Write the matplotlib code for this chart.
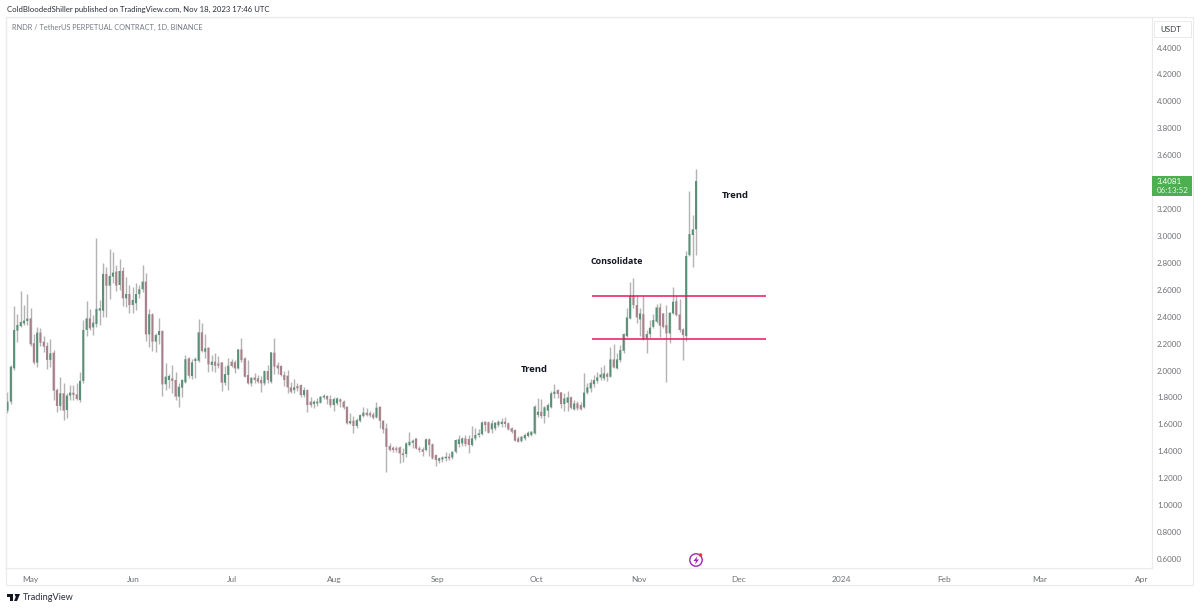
import matplotlib
matplotlib.use("Agg")
from matplotlib import pyplot as plt
import matplotlib.patches as mpatches
import numpy as np

# daily RNDR/USDT candles, first candle 24 Apr 2023
opens = [1.702,1.769,2.017,2.297,2.331,2.351,2.368,2.388,2.203,2.059,
2.282,2.215,2.183,2.079,2.133,1.856,1.737,1.831,1.707,1.814,
1.836,1.823,1.781,1.923,2.302,2.388,2.321,2.346,2.445,2.445,
2.718,2.631,2.698,2.735,2.636,2.740,2.537,2.569,2.487,2.500,
2.569,2.604,2.661,2.269,2.418,2.215,2.264,2.294,1.898,1.930,
1.942,1.930,1.806,1.873,1.913,2.091,1.959,2.071,2.073,2.284,
2.140,2.170,2.041,2.066,2.053,2.061,1.910,1.967,2.066,2.061,
2.016,2.157,2.091,1.967,1.905,1.949,1.942,1.930,1.905,1.996,
1.917,2.133,2.039,2.034,1.967,1.962,1.875,1.855,1.885,1.892,
1.818,1.855,1.769,1.751,1.756,1.761,1.801,1.811,1.788,1.744,
1.756,1.786,1.769,1.731,1.608,1.627,1.588,1.627,1.662,1.687,
1.682,1.674,1.652,1.731,1.627,1.570,1.439,1.427,1.422,1.429,
1.385,1.380,1.447,1.464,1.496,1.422,1.414,1.410,1.489,1.452,
1.372,1.330,1.340,1.348,1.360,1.355,1.397,1.454,1.459,1.496,
1.491,1.447,1.496,1.521,1.528,1.620,1.615,1.563,1.571,1.595,
1.603,1.620,1.608,1.571,1.558,1.496,1.476,1.496,1.514,1.521,
1.533,1.670,1.694,1.662,1.702,1.727,1.826,1.855,1.838,1.751,
1.761,1.801,1.712,1.756,1.744,1.727,1.836,1.867,1.899,1.924,
1.949,1.942,1.974,1.954,2.083,2.016,2.078,2.147,2.256,2.387,
2.556,2.487,2.380,2.420,2.239,2.271,2.325,2.363,2.469,2.425,
2.338,2.276,2.425,2.516,2.417,2.306,2.256,2.858,3.007,3.049]
highs = [1.838,2.042,2.480,2.418,2.591,2.487,2.567,2.463,2.272,2.326,
2.314,2.257,2.215,2.235,2.153,1.868,1.955,1.905,1.831,1.893,
1.893,1.905,1.987,2.376,2.517,2.455,2.413,2.988,2.525,2.797,
2.767,2.901,2.879,2.785,2.827,2.767,2.693,2.636,2.619,2.648,
2.636,2.785,2.723,2.455,2.430,2.282,2.393,2.300,2.054,1.975,
2.042,1.992,1.905,1.935,2.116,2.098,2.083,2.098,2.383,2.351,
2.271,2.175,2.115,2.128,2.110,2.066,2.034,2.091,2.083,2.078,
2.162,2.239,2.098,2.078,1.954,1.984,1.967,1.959,2.004,2.041,
2.140,2.239,2.061,2.041,1.999,2.004,1.917,1.937,1.910,1.900,
1.875,1.860,1.806,1.781,1.793,1.811,1.823,1.818,1.818,1.801,
1.801,1.793,1.781,1.736,1.682,1.662,1.645,1.677,1.731,1.719,
1.699,1.694,1.764,1.736,1.632,1.608,1.464,1.439,1.442,1.439,
1.422,1.471,1.546,1.491,1.501,1.439,1.429,1.496,1.496,1.459,
1.380,1.355,1.365,1.392,1.385,1.405,1.489,1.521,1.509,1.521,
1.521,1.588,1.571,1.563,1.625,1.628,1.628,1.632,1.620,1.632,
1.650,1.657,1.620,1.583,1.563,1.514,1.516,1.538,1.551,1.553,
1.744,1.798,1.786,1.736,1.761,1.850,1.898,1.863,1.843,1.831,
1.850,1.811,1.781,1.776,1.769,1.984,1.905,1.935,1.966,1.991,
2.023,2.041,1.991,2.177,2.194,2.127,2.189,2.276,2.462,2.660,
2.685,2.561,2.462,2.553,2.301,2.375,2.420,2.494,2.504,2.430,
2.487,2.437,2.623,2.553,2.529,2.313,2.890,3.336,3.155,3.495]
lows = [1.687,1.749,2.004,2.215,2.326,2.339,2.339,2.183,2.049,2.029,
2.183,2.141,2.012,2.029,1.781,1.695,1.707,1.633,1.645,1.781,
1.781,1.781,1.769,1.905,2.259,2.302,2.264,2.326,2.339,2.401,
2.401,2.529,2.648,2.594,2.599,2.480,2.470,2.425,2.430,2.450,
2.537,2.586,2.222,2.173,2.148,2.141,2.198,1.814,1.856,1.868,
1.831,1.781,1.727,1.806,1.905,1.942,1.934,1.942,2.060,2.140,
2.091,1.991,1.999,1.991,2.021,1.850,1.892,1.855,2.029,1.979,
2.009,2.066,1.949,1.900,1.885,1.910,1.905,1.843,1.892,1.905,
1.910,1.974,1.974,1.959,1.885,1.835,1.835,1.835,1.850,1.806,
1.806,1.694,1.731,1.724,1.736,1.756,1.786,1.751,1.731,1.699,
1.744,1.731,1.712,1.603,1.603,1.533,1.570,1.620,1.657,1.662,
1.657,1.637,1.645,1.570,1.533,1.243,1.402,1.397,1.397,1.315,
1.323,1.355,1.439,1.422,1.414,1.397,1.365,1.402,1.365,1.340,
1.291,1.315,1.323,1.330,1.335,1.340,1.390,1.429,1.439,1.439,
1.385,1.439,1.484,1.509,1.521,1.553,1.533,1.538,1.558,1.583,
1.583,1.583,1.558,1.538,1.476,1.466,1.466,1.484,1.509,1.514,
1.526,1.657,1.645,1.613,1.657,1.719,1.793,1.793,1.719,1.702,
1.702,1.712,1.707,1.707,1.707,1.719,1.826,1.842,1.880,1.904,
1.929,1.929,1.924,1.949,2.016,2.008,2.065,2.132,2.251,2.380,
2.462,2.350,2.256,2.226,2.132,2.239,2.313,2.350,2.251,2.313,
1.917,2.202,2.420,2.405,2.288,2.078,2.221,2.850,2.766,2.858]
closes = [1.769,2.029,2.302,2.339,2.361,2.371,2.386,2.195,2.059,2.282,
2.207,2.178,2.079,2.128,1.851,1.737,1.831,1.702,1.814,1.836,
1.819,1.789,1.923,2.302,2.388,2.314,2.356,2.458,2.463,2.718,
2.631,2.703,2.728,2.631,2.740,2.537,2.569,2.487,2.525,2.569,
2.604,2.661,2.269,2.418,2.215,2.264,2.294,1.898,1.955,1.960,
1.923,1.806,1.880,1.930,2.084,1.962,2.061,2.086,2.284,2.145,
2.165,2.046,2.066,2.036,2.036,1.910,1.974,2.036,2.034,2.016,
2.157,2.078,1.954,1.905,1.947,1.930,1.917,1.905,1.996,1.930,
2.135,2.029,2.016,1.967,1.930,1.875,1.843,1.875,1.868,1.818,
1.855,1.744,1.744,1.769,1.769,1.806,1.813,1.786,1.744,1.788,
1.793,1.769,1.726,1.608,1.625,1.588,1.632,1.669,1.687,1.669,
1.667,1.650,1.724,1.627,1.563,1.434,1.410,1.410,1.410,1.385,
1.372,1.459,1.471,1.479,1.422,1.410,1.397,1.489,1.447,1.348,
1.335,1.348,1.355,1.360,1.348,1.397,1.484,1.489,1.496,1.454,
1.447,1.496,1.521,1.533,1.615,1.595,1.538,1.608,1.613,1.620,
1.620,1.603,1.563,1.546,1.479,1.471,1.509,1.521,1.538,1.546,
1.732,1.694,1.662,1.727,1.744,1.831,1.843,1.826,1.751,1.793,
1.801,1.724,1.756,1.719,1.712,1.836,1.875,1.910,1.929,1.949,
1.971,1.979,1.954,2.083,2.023,2.083,2.152,2.271,2.395,2.556,
2.487,2.395,2.425,2.231,2.271,2.318,2.375,2.469,2.333,2.325,
2.276,2.430,2.511,2.412,2.301,2.264,2.851,3.014,3.049,3.408]

# bars from the first candle to the start of each month
month_pos = [7, 38.1, 68.2, 99.1, 130.6, 160.7, 191.7, 222, 253, 284.2, 313.2, 344.4]
month_labels = ["May", "Jun", "Jul", "Aug", "Sep", "Oct", "Nov", "Dec", "2024", "Feb", "Mar", "Apr"]
price_ticks = [0.6, 0.8, 1.0, 1.2, 1.4, 1.6, 1.8, 2.0, 2.2, 2.4, 2.6, 2.8, 3.0, 3.2, 3.6, 3.8, 4.0, 4.2, 4.4]
range_top = 2.556
range_bottom = 2.232
range_start = 177.4
range_end = 230.3
last_price = 3.4081

W, H = 1200, 609
UP = "#5a9077"
DOWN = "#a97f8a"
WICK = "#b4b2b3"
GREY = "#6e7075"
BORDER = "#e9eaec"
PINK = "#e8185f"
plt.rcParams["font.family"] = ["Lato", "DejaVu Sans"]


def px_rect(l, t, r, b):
    return [l / W, 1 - b / H, (r - l) / W, (b - t) / H]


fig = plt.figure(figsize=(12, 6.09), dpi=100, facecolor="white")
ax = fig.add_axes(px_rect(6, 17, 1152, 568))
ax.set_xlim(-0.455, 347.4)
ax.set_ylim(0.533, 4.627)

o = np.array(opens)
c = np.array(closes)
x = np.arange(len(o))
up = c >= o
ax.vlines(x, lows, highs, color=WICK, lw=1.0, zorder=2)
bars = ax.bar(x, np.abs(c - o), bottom=np.minimum(o, c), width=0.62,
              color=[UP if u else DOWN for u in up], linewidth=0, zorder=3)
for bar in bars:
    bar.set_snap(False)

ax.hlines([range_top, range_bottom], range_start, range_end, color=PINK, lw=1.1, zorder=4)

note_font = ["Open Sans", "DejaVu Sans"]
ax.text(159.8, 2.011, "Trend", fontsize=6.8, fontweight="bold", color="#131722",
        ha="center", va="center", family=note_font)
ax.text(184.8, 2.809, "Consolidate", fontsize=6.4, fontweight="bold", color="#131722",
        ha="center", va="center", family=note_font)
ax.text(221, 3.299, "Trend", fontsize=6.8, fontweight="bold", color="#131722",
        ha="center", va="center", family=note_font)

ax.set_xticks(month_pos)
ax.set_xticklabels(month_labels)
ax.set_yticks(price_ticks)
ax.set_yticklabels([f"{p:.4f}" for p in price_ticks])
ax.yaxis.tick_right()
ax.tick_params(axis="x", length=0, labelsize=6.0, labelcolor=GREY, pad=6)
ax.tick_params(axis="y", length=0, labelsize=5.8, labelcolor=GREY, pad=3.6)
for side in ax.spines.values():
    side.set_color(BORDER)
    side.set_linewidth(0.8)

# outer frame of the price and time scales
fig.add_artist(mpatches.Rectangle((6 / W, 1 - 585 / H), 1187 / W, 568 / H, transform=fig.transFigure,
                                  fill=False, edgecolor=BORDER, lw=0.8))

# price scale header and last price tag
fig.add_artist(mpatches.Rectangle((1154 / W, 1 - 37 / H), 37 / W, 16 / H, transform=fig.transFigure,
                                  facecolor="white", edgecolor=BORDER, lw=0.7))
fig.text(1160 / W, 1 - 29 / H, "USDT", fontsize=5.8, color="#3c3f46", va="center")
fig.add_artist(mpatches.Rectangle((1152 / W, 1 - 196 / H), 39.5 / W, 20 / H, transform=fig.transFigure,
                                  facecolor="#4caf50", edgecolor="none"))
fig.text(1157 / W, 1 - 181 / H, f"{last_price:.4f}", fontsize=5.8, color="white", va="center")
fig.text(1157 / W, 1 - 191 / H, "06:13:52", fontsize=5.8, color="#e3f4e3", va="center")

fig.text(7 / W, 1 - 9 / H, "ColdBloodedShiller published on TradingView.com, Nov 18, 2023 17:46 UTC",
         fontsize=5.6, color="#2a2e39", va="center")
fig.text(12 / W, 1 - 27 / H, "RNDR / TetherUS PERPETUAL CONTRACT, 1D, BINANCE",
         fontsize=5.3, color="#787b86", va="center")


# TradingView mark, drawn in pixel positions of the page
def page_poly(points, **kw):
    pts = [(a / W, 1 - b / H) for a, b in points]
    fig.add_artist(mpatches.Polygon(pts, closed=True, transform=fig.transFigure, **kw))


page_poly([(7, 594), (13, 594), (13, 601), (10, 601), (10, 597), (7, 597)], facecolor="#131722", edgecolor="none")
page_poly([(14.5, 594), (20, 594), (17, 601), (14, 601), (15.8, 597)], facecolor="#131722", edgecolor="none")
fig.text(22.5 / W, 1 - 597 / H, "TradingView", fontsize=6.6, color="#2a2e39", va="center")

# lightning icon above the time scale
icon = fig.add_axes([0, 0, 1, 1], facecolor="none", zorder=5)
icon.set_xlim(0, W)
icon.set_ylim(H, 0)
icon.axis("off")
icon.add_patch(mpatches.Circle((696, 560), 6.2, fill=False, edgecolor="#9c27b0", lw=1.0))
icon.add_patch(mpatches.Polygon([(697.5, 556), (693.5, 561), (696, 561), (695, 564.5), (699, 559.5), (696.5, 559.5)],
                                closed=True, facecolor="#9c27b0", edgecolor="none"))
icon.add_patch(mpatches.Circle((700.5, 555), 1.8, facecolor="#f23645", edgecolor="none"))

fig.savefig("out.png", dpi=100, facecolor="white")
